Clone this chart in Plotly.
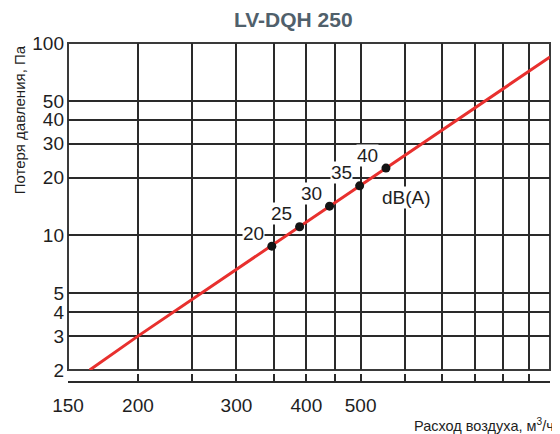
import numpy as np
import plotly.graph_objects as go

# ---- data ----
line_q = [164, 200, 1090]          # airflow, m3/h
line_p = [2.0, 3.0, 84.6]          # pressure loss, Pa

pt_q = [347, 389, 440, 498, 555]
pt_p = [8.8, 11.1, 14.2, 18.1, 22.4]
pt_labels = ["20", "25", "30", "35", "40"]

x_major = [150, 200, 300, 400, 500]
x_minor = [250, 350, 450, 600, 700, 800, 900, 1000]
y_ticks = [2, 3, 4, 5, 10, 20, 30, 40, 50, 100]

title_text = "LV-DQH 250"
x_title = "Расход воздуха, м<sup>3</sup>/ч"
y_title = "Потеря давления, Па"
unit_label = "dB(A)"
unit_pos = (605, 15.7)

FONT = "Liberation Sans, Arial, sans-serif"
GRID = "#2a2a2a"
TXT = "#1e1e1e"

fig = go.Figure()
fig.add_trace(go.Scatter(x=line_q, y=line_p, mode="lines",
                         line=dict(color="#e8302e", width=3), hoverinfo="skip"))
fig.add_trace(go.Scatter(x=pt_q, y=pt_p, mode="markers",
                         marker=dict(color="#141414", size=9)))

for q, p, t in zip(pt_q, pt_p, pt_labels):
    fig.add_annotation(x=np.log10(q), y=np.log10(p), xref="x", yref="y", text=t,
                       showarrow=False, xshift=-18, yshift=13, bgcolor="white",
                       borderpad=0, font=dict(size=19, color=TXT, family=FONT))

fig.add_annotation(x=np.log10(unit_pos[0]), y=np.log10(unit_pos[1]), xref="x", yref="y",
                   text=unit_label, showarrow=False, bgcolor="white", borderpad=0,
                   font=dict(size=19, color=TXT, family=FONT))

# frame
fig.add_shape(type="rect", xref="x domain", yref="y domain", x0=0, x1=1, y0=0, y1=1,
              line=dict(color="#3a3a3a", width=2), layer="below")

# titles
fig.add_annotation(x=0.468, y=1.068, xref="paper", yref="paper", text="<b>" + title_text + "</b>",
                   xanchor="center", yanchor="middle", showarrow=False,
                   font=dict(size=21, color="#50606b", family=FONT))
fig.add_annotation(x=1.01, y=-0.1254, xref="paper", yref="paper", text=x_title,
                   xanchor="right", yanchor="middle", showarrow=False, borderpad=0,
                   font=dict(size=14.5, color=TXT, family=FONT))
fig.add_annotation(x=-0.1017, y=0.775, xref="paper", yref="paper", text=y_title,
                   textangle=-90, xanchor="center", yanchor="middle", showarrow=False,
                   font=dict(size=15, color=TXT, family=FONT))

fig.update_layout(
    width=552, height=426,
    margin=dict(l=60, r=10, t=35, b=52),
    plot_bgcolor="white", paper_bgcolor="white",
    showlegend=False,
    font=dict(family=FONT, color=TXT),
    xaxis=dict(type="log", range=[np.log10(150), np.log10(1090)],
               tickvals=x_major, ticktext=[str(v) for v in x_major],
               showgrid=True, gridcolor=GRID, gridwidth=2,
               showline=True, linecolor=GRID, linewidth=2,
               ticks="inside", ticklen=7, tickwidth=2, tickcolor=GRID,
               minor=dict(tickvals=x_minor, showgrid=True, gridcolor=GRID, gridwidth=2,
                          ticks="inside", ticklen=7, tickwidth=2, tickcolor=GRID),
               anchor="free", position=0, zeroline=False, automargin=False,
               ticklabelstandoff=6,
               tickfont=dict(size=19, color=TXT, family=FONT)),
    yaxis=dict(type="log", range=[np.log10(2), 2], domain=[0.0354, 1],
               tickvals=y_ticks, ticktext=[str(v) for v in y_ticks],
               showgrid=True, gridcolor=GRID, gridwidth=2,
               showline=False, ticks="", zeroline=False, automargin=False,
               ticklabelstandoff=3,
               tickfont=dict(size=19, color=TXT, family=FONT)),
)

fig.write_html("out.html")
